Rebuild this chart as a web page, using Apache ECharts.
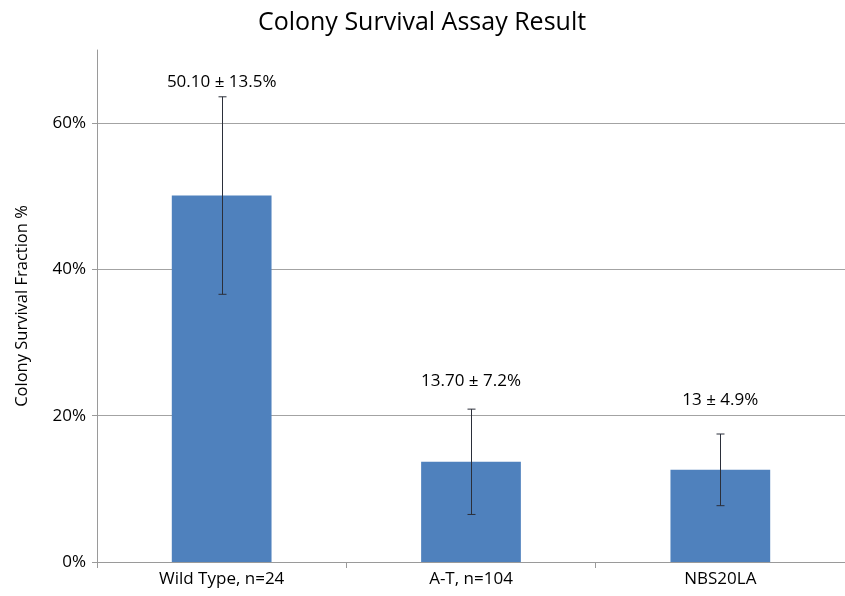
<!DOCTYPE html>
<html>
<head>
<meta charset="utf-8">
<script src="https://cdn.jsdelivr.net/npm/echarts@6/dist/echarts.min.js"></script>
<style>html,body{margin:0;padding:0;background:#fff}#c{width:845px;height:596px}</style>
</head>
<body>
<div id="c"></div>
<script>
const categories = ['Wild Type, n=24', 'A-T, n=104', 'NBS20LA'];
const values = [50.1, 13.7, 12.6];
const errors = [13.5, 7.2, 4.9];
const labelTexts = ['50.10 \u00b1 13.5%', '13.70 \u00b1 7.2%', '13 \u00b1 4.9%'];
const labelAnchors = [65.6, 24.7, 22.1];
const yTicks = [0, 20, 40, 60];

const FONT = '"Open Sans", "Liberation Sans", sans-serif';
const chart = echarts.init(document.getElementById('c'), null, {renderer: 'canvas'});
chart.setOption({
  animation: false,
  backgroundColor: '#fff',
  title: {
    text: 'Colony Survival Assay Result',
    left: 417, top: 5, textAlign: 'center',
    textStyle: {fontFamily: FONT, fontSize: 25, fontWeight: 'normal', color: '#000'}
  },
  grid: {left: 97, right: -5, top: 50, bottom: 34, containLabel: false},
  xAxis: {
    type: 'category', data: categories,
    axisLine: {lineStyle: {color: '#9a9a9a', width: 1}},
    axisTick: {show: true, alignWithLabel: false, length: 6, lineStyle: {color: '#9a9a9a'}},
    axisLabel: {fontFamily: FONT, fontSize: 17, color: '#000', margin: 9}
  },
  yAxis: {
    type: 'value', min: 0, max: 70, interval: 10,
    name: 'Colony Survival Fraction %', nameLocation: 'middle', nameGap: 66,
    nameTextStyle: {fontFamily: FONT, fontSize: 16.5, color: '#000'},
    axisLine: {show: true, lineStyle: {color: '#9a9a9a', width: 1}},
    axisTick: {show: true, length: 5, lineStyle: {color: '#9a9a9a'},
      customValues: yTicks},
    axisLabel: {fontFamily: FONT, fontSize: 17, color: '#000', margin: 11,
      customValues: yTicks, formatter: v => v + '%'},
    splitLine: {show: true, lineStyle: {color: '#a3a3a3', width: 1}}
  },
  series: [
    {
      type: 'bar', data: values, barWidth: '40%',
      itemStyle: {color: '#4F81BD'}, z: 2
    },
    {
      type: 'custom', z: 5,
      data: categories.map((c, i) => [i, values[i] - errors[i], values[i] + errors[i]]),
      renderItem: function (params, api) {
        const lo = api.coord([api.value(0), api.value(1)]);
        const hi = api.coord([api.value(0), api.value(2)]);
        const x = Math.round(lo[0]) + 0.5;
        const cap = 4;
        const style = {stroke: '#2b2f3a', lineWidth: 1};
        return {type: 'group', children: [
          {type: 'line', shape: {x1: x, y1: hi[1], x2: x, y2: lo[1]}, style},
          {type: 'line', shape: {x1: x - cap, y1: hi[1], x2: x + cap, y2: hi[1]}, style},
          {type: 'line', shape: {x1: x - cap, y1: lo[1], x2: x + cap, y2: lo[1]}, style}
        ]};
      }
    },
    {
      type: 'custom', z: 6,
      data: categories.map((c, i) => [i, labelAnchors[i]]),
      renderItem: function (params, api) {
        const p = api.coord([api.value(0), api.value(1)]);
        return {type: 'text', x: p[0], y: p[1], style: {
          text: labelTexts[params.dataIndex], fontFamily: FONT, fontSize: 17,
          fill: '#000', align: 'center', verticalAlign: 'middle'}};
      }
    }
  ]
});
</script>
</body>
</html>
